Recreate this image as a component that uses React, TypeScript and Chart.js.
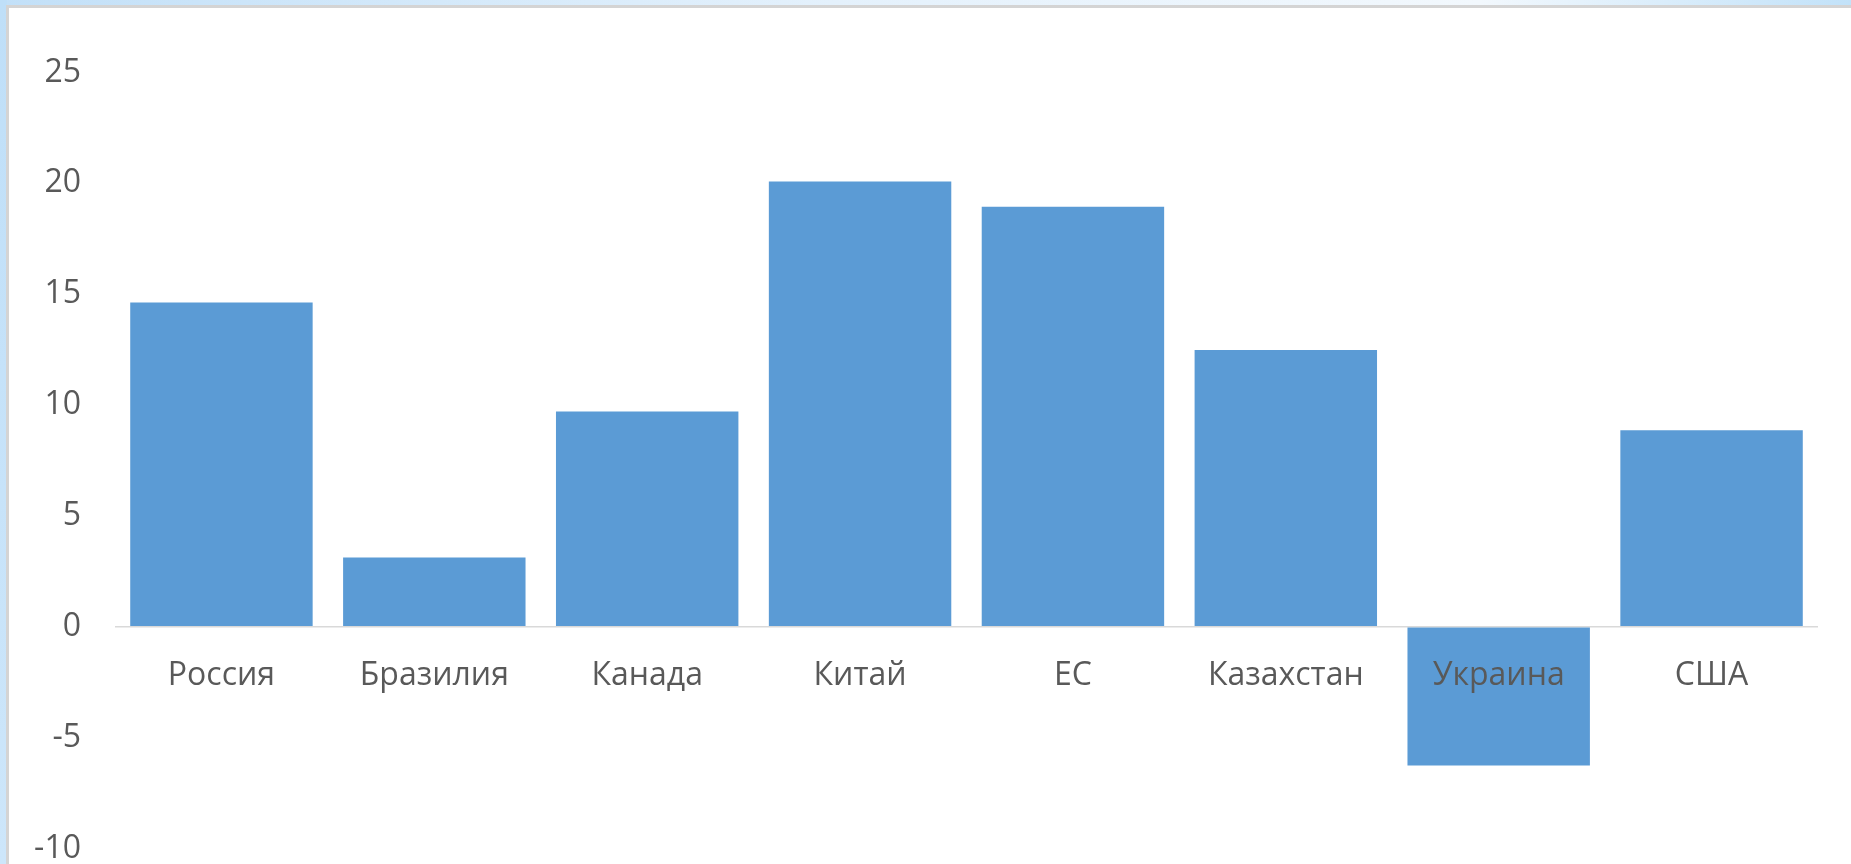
import React, { useEffect, useRef } from "react";
import { Chart, registerables } from "chart.js";

Chart.register(...registerables);

const categories = ["Россия", "Бразилия", "Канада", "Китай", "ЕС", "Казахстан", "Украина", "США"];
const values = [14.63, 3.13, 9.71, 20.08, 18.95, 12.48, -6.26, 8.87];
const yTicks = [-10, -5, 0, 5, 10, 15, 20, 25];

const BAR_COLOR = "#5b9bd5";
const TEXT_COLOR = "#595959";
const FONT_FAMILY = "'Open Sans', 'Noto Sans', sans-serif";
const FONT_SIZE = 32;

const framePlugin = {
  id: "frame",
  beforeDraw(chart: any) {
    const { ctx, width, height } = chart;
    ctx.save();
    const g = ctx.createLinearGradient(0, 0, width, 0);
    g.addColorStop(0, "#c2e0f8");
    g.addColorStop(0.45, "#e4f1fc");
    g.addColorStop(0.8, "#f2f8fd");
    g.addColorStop(1, "#c2e2f9");
    ctx.fillStyle = g;
    ctx.fillRect(0, 0, width, height);
    const v = ctx.createLinearGradient(0, 0, 0, height);
    v.addColorStop(0, "#bfdff8");
    v.addColorStop(1, "#cde6fa");
    ctx.fillStyle = v;
    ctx.fillRect(0, 0, 7, height);
    ctx.fillStyle = "#d4d4d4";
    ctx.fillRect(6, 5, width - 6, height - 5);
    ctx.fillStyle = "#ffffff";
    ctx.fillRect(9, 8, width - 9, height - 8);
    ctx.restore();
  },
};

export default function App() {
  const canvasRef = useRef<HTMLCanvasElement | null>(null);

  useEffect(() => {
    document.body.style.margin = "0";
    const canvas = canvasRef.current;
    if (!canvas) return;
    const chart = new Chart(canvas, {
      type: "bar",
      data: {
        labels: categories,
        datasets: [
          {
            data: values,
            backgroundColor: BAR_COLOR,
            borderWidth: 0,
            barPercentage: 0.857,
            categoryPercentage: 1,
          },
        ],
      },
      plugins: [framePlugin],
      options: {
        responsive: false,
        animation: false,
        devicePixelRatio: 1,
        layout: { padding: { left: 0, top: 72.5, right: 33, bottom: 15.5 } },
        plugins: {
          legend: { display: false },
          tooltip: { enabled: false },
          title: { display: false },
        },
        scales: {
          x: {
            type: "category",
            position: { y: 0 } as any,
            offset: true,
            afterFit: (scale: any) => {
              scale.height = 0;
              scale.paddingTop = 0;
              scale.paddingBottom = 0;
            },
            grid: { display: false, drawTicks: false },
            border: { display: false },
            ticks: {
              z: 1,
              padding: 30,
              color: TEXT_COLOR,
              font: { family: FONT_FAMILY, size: FONT_SIZE },
              maxRotation: 0,
              autoSkip: false,
            },
          },
          y: {
            type: "linear",
            min: -10,
            max: 25,
            afterBuildTicks: (scale: any) => {
              scale.ticks = yTicks.map((v) => ({ value: v }));
            },
            afterFit: (scale: any) => {
              scale.width = 115;
              scale.paddingTop = 0;
              scale.paddingBottom = 0;
            },
            grid: {
              drawTicks: false,
              color: (ctx: any) => (ctx.tick && ctx.tick.value === 0 ? "#d9d9d9" : "rgba(0,0,0,0)"),
              lineWidth: 1.5,
            },
            border: { display: false },
            ticks: {
              padding: 34,
              color: TEXT_COLOR,
              font: { family: FONT_FAMILY, size: FONT_SIZE },
            },
          },
        },
      },
    });
    return () => chart.destroy();
  }, []);

  return (
    <div style={{ width: 1851, height: 864, position: "relative", overflow: "hidden" }}>
      <canvas ref={canvasRef} width={1851} height={864} style={{ display: "block", width: 1851, height: 864 }} />
    </div>
  );
}
